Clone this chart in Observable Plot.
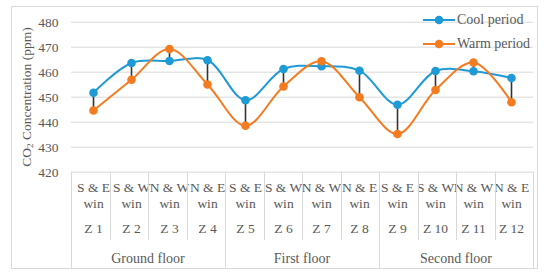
<!DOCTYPE html>
<html>
<head>
<meta charset="utf-8">
<script src="https://cdn.jsdelivr.net/npm/d3@7"></script>
<script src="https://cdn.jsdelivr.net/npm/@observablehq/plot@0.6"></script>
</head>
<body style="margin:0;padding:0;background:#fff">
<div id="wrap" style="position:relative;width:550px;height:279px;overflow:hidden"></div>
<script>
const zones = ["Z 1","Z 2","Z 3","Z 4","Z 5","Z 6","Z 7","Z 8","Z 9","Z 10","Z 11","Z 12"];
const orientations = ["S & E","S & W","N & W","N & E","S & E","S & W","N & W","N & E","S & E","S & W","N & W","N & E"];
const floors = ["Ground floor","First floor","Second floor"];
const coolPeriod = [451.8, 463.7, 464.5, 464.8, 448.8, 461.3, 462.4, 460.6, 447.0, 460.5, 460.4, 457.7];
const warmPeriod = [444.7, 457.0, 469.3, 455.1, 438.6, 454.3, 464.4, 450.0, 435.3, 452.9, 463.9, 448.0];
const yTicks = [420, 430, 440, 450, 460, 470, 480];
const seriesNames = ["Cool period", "Warm period"];
const seriesColors = ["#1e9ad6", "#f47b20"];

const rows = zones.map((z, i) => ({zone: z, orient: orientations[i], cool: coolPeriod[i], warm: warmPeriod[i], floor: floors[Math.floor(i / 4)]}));
const long = rows.flatMap(r => [
  {zone: r.zone, series: seriesNames[0], value: r.cool},
  {zone: r.zone, series: seriesNames[1], value: r.warm}
]);

const W = 550, H = 279;
const mL = 71, mR = 17, mT = 21.7, mB = 107.3;
const plotH = H - mT - mB;
const font = "'Liberation Serif', serif";
const gray = "#595959";

const innerBounds = zones.map((z, i) => i).filter(i => i % 4 !== 0);
const groupBounds = [0, 4, 8, 12];

const xs = d3.scaleBand().domain(zones).range([mL, W - mR]);

const chart = Plot.plot({
  width: W, height: H,
  marginLeft: mL, marginRight: mR, marginTop: mT, marginBottom: mB,
  style: {fontFamily: font, fontSize: "13px", color: gray, background: "transparent"},
  x: {type: "band", domain: zones, padding: 0, axis: null},
  y: {domain: [420, 480], ticks: yTicks, axis: null},
  color: {domain: seriesNames, range: seriesColors},
  marks: [
    Plot.ruleY(yTicks, {stroke: "#d9d9d9", strokeWidth: 1}),
    Plot.axisY(yTicks, {tickSize: 0, tickPadding: 0, dx: -13, fill: gray, fontSize: 13.5, label: null}),
    Plot.lineY(long, {x: "zone", y: "value", z: "series", stroke: "series", strokeWidth: 2, curve: "catmull-rom"}),
    Plot.ruleX(rows, {x: "zone", y1: "cool", y2: "warm", stroke: "#333", strokeWidth: 1.6}),
    Plot.dot(long, {x: "zone", y: "value", fill: "series", r: 4.3}),
    Plot.text(rows, {x: "zone", text: "orient", frameAnchor: "bottom", dy: 20, fill: gray, fontSize: 13.5}),
    Plot.text(rows, {x: "zone", text: () => "win", frameAnchor: "bottom", dy: 36, fill: gray, fontSize: 13.5}),
    Plot.text(rows, {x: "zone", text: "zone", frameAnchor: "bottom", dy: 61, fill: gray, fontSize: 13.5})
  ]
});

const svg = d3.select(chart);
const g = svg.append("g").attr("stroke", "#d9d9d9").attr("stroke-width", 1);
const yBase = mT + plotH;
const bx = i => i < zones.length ? xs(zones[i]) : xs(zones[zones.length - 1]) + xs.bandwidth();
innerBounds.forEach(i => {
  g.append("line").attr("x1", Math.round(bx(i)) + 0.5).attr("x2", Math.round(bx(i)) + 0.5).attr("y1", yBase).attr("y2", yBase + 68.5);
});
groupBounds.forEach(i => {
  g.append("line").attr("x1", Math.round(bx(i)) + 0.5).attr("x2", Math.round(bx(i)) + 0.5).attr("y1", yBase).attr("y2", yBase + 96);
});
floors.forEach((f, k) => {
  const cx = (bx(k * 4) + bx(k * 4 + 4)) / 2;
  svg.append("text").attr("x", cx).attr("y", yBase + 86.5).attr("dy", "0.32em")
    .attr("text-anchor", "middle").attr("fill", gray).attr("font-size", 14).text(f);
});
svg.selectAll("text").style("font-family", "'Liberation Serif', serif");

const wrap = document.getElementById("wrap");
chart.style.position = "absolute"; chart.style.left = "0"; chart.style.top = "0";
wrap.appendChild(chart);

const border = document.createElement("div");
border.setAttribute("style", "position:absolute;left:11px;top:6px;width:527px;height:263px;border:1px solid #d9d9d9;box-sizing:border-box");
wrap.appendChild(border);

const yl = document.createElement("div");
yl.setAttribute("style", "position:absolute;left:27px;top:97px;transform:translate(-50%,-50%) rotate(-90deg);white-space:nowrap;font-family:'Liberation Serif',serif;font-size:13.5px;color:#595959");
yl.innerHTML = "CO<sub style='font-size:9px;vertical-align:-2px;line-height:0'>2</sub> Concentration (ppm)";
wrap.appendChild(yl);

const lg = document.createElement("div");
lg.setAttribute("style", "position:absolute;left:423px;top:8px;font-family:'Liberation Serif',serif;font-size:14px;color:#595959");
seriesNames.forEach((s, i) => {
  const row = document.createElement("div");
  row.setAttribute("style", "display:flex;align-items:center;height:24px");
  row.innerHTML = `<svg width="32" height="10" style="margin-right:2px"><line x1="0" x2="32" y1="5" y2="5" stroke="${seriesColors[i]}" stroke-width="2"/><circle cx="16" cy="5" r="4.3" fill="${seriesColors[i]}"/></svg><span>${s}</span>`;
  lg.appendChild(row);
});
wrap.appendChild(lg);
</script>
</body>
</html>
